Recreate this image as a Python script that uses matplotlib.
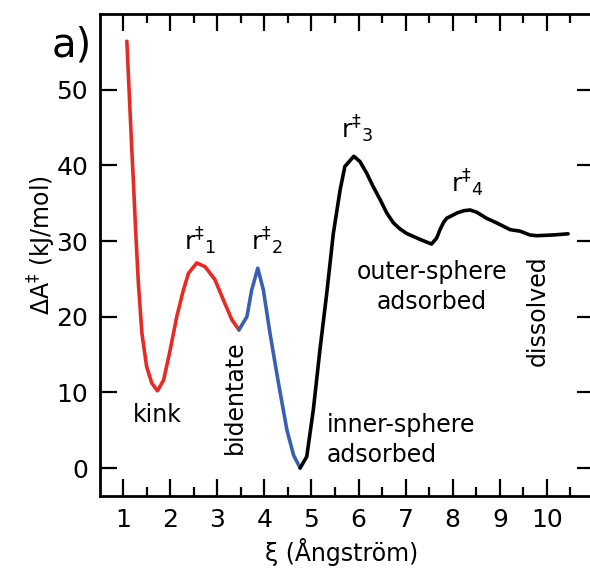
import matplotlib
matplotlib.use("Agg")
import matplotlib.pyplot as plt
from matplotlib.ticker import MultipleLocator

plt.rcParams['font.family'] = ['DejaVu Sans']
plt.rcParams['mathtext.fontset'] = 'dejavusans'

# Segment 1 (red): kink basin and first barrier
red_x = [1.08, 1.185, 1.22, 1.27, 1.325, 1.40, 1.50, 1.61, 1.73, 1.86, 2.00, 2.14, 2.28,
         2.39, 2.565, 2.74, 2.95, 3.13, 3.31, 3.46]
red_y = [56.4, 42.1, 37.7, 31.0, 24.4, 17.8, 13.4, 11.2, 10.2, 11.6, 15.6, 20.0, 23.5,
         25.75, 27.1, 26.6, 24.9, 22.2, 19.6, 18.25]

# Segment 2 (blue): bidentate to inner-sphere
blue_x = [3.46, 3.63, 3.73, 3.86, 3.98, 4.12, 4.30, 4.48, 4.62, 4.76]
blue_y = [18.25, 20.0, 23.5, 26.4, 23.5, 17.8, 11.2, 5.0, 1.7, 0.0]

# Segment 3 (black): inner-sphere to dissolved
black_x = [4.76, 4.90, 5.04, 5.18, 5.325, 5.465, 5.61, 5.71, 5.90, 6.03, 6.17, 6.31, 6.46,
           6.60, 6.74, 6.88, 7.02, 7.31, 7.55, 7.66, 7.73, 7.80, 7.87, 8.09, 8.23, 8.37,
           8.51, 8.72, 8.93, 9.22, 9.43, 9.64, 9.78, 10.14, 10.45]
black_y = [0.0, 1.5, 7.7, 15.6, 23.1, 31.0, 36.8, 39.85, 41.2, 40.5, 39.0, 37.2, 35.45,
           33.7, 32.4, 31.6, 31.0, 30.2, 29.6, 30.4, 31.5, 32.4, 33.0, 33.7, 34.0, 34.1,
           33.8, 33.0, 32.4, 31.5, 31.3, 30.8, 30.7, 30.8, 30.95]

x_ticks = [1, 2, 3, 4, 5, 6, 7, 8, 9, 10]
y_ticks = [0, 10, 20, 30, 40, 50]

fig = plt.figure(figsize=(5.90, 5.73), dpi=100)
ax = fig.add_axes([100/590, 1 - 496/573, (594 - 100)/590, (496 - 14)/573])

lw = 2.6
for xs, ys, c in [(red_x, red_y, '#e62b25'), (blue_x, blue_y, '#3a5fb0'),
                  (black_x, black_y, 'black')]:
    ax.plot(xs, ys, color=c, lw=lw, solid_capstyle='round', solid_joinstyle='round')

ax.set_xlim(0.51, 11.0)
ax.set_ylim(-3.7, 60.0)
ax.set_xticks(x_ticks)
ax.set_yticks(y_ticks)
ax.xaxis.set_minor_locator(MultipleLocator(0.5))

for s in ax.spines.values():
    s.set_linewidth(2.0)
ax.tick_params(which='both', direction='in', top=True, right=True, width=1.6,
               labelsize=18, pad=8.5)
ax.tick_params(which='major', length=12)
ax.tick_params(which='minor', length=6.5)
ax.tick_params(axis='y', which='minor', left=False, right=False)

ax.set_xlabel('ξ (Ångström)', fontsize=17)
ax.xaxis.set_label_coords(0.49, -0.088)
ax.set_ylabel('ΔA$^{\\ddagger}$ (kJ/mol)', fontsize=17)
ax.yaxis.set_label_coords(-0.085, 0.52)

fs = 17
ax.text(1.72, 7.0, 'kink', fontsize=fs, ha='center', va='center')
ax.text(3.38, 9.4, 'bidentate', fontsize=fs, ha='center', va='center', rotation=90)
ax.text(5.33, 3.7, 'inner-sphere\nadsorbed', fontsize=fs, ha='left', va='center',
        multialignment='left', linespacing=1.3)
ax.text(7.56, 23.9, 'outer-sphere\nadsorbed', fontsize=fs, ha='center', va='center',
        multialignment='center', linespacing=1.3)
ax.text(9.81, 20.8, 'dissolved', fontsize=fs, ha='center', va='center', rotation=90)

rfs = 18
ax.text(2.63, 30.0, '$\\mathrm{r}^{\\ddagger}{}_{1}$', fontsize=rfs, ha='center', va='center')
ax.text(4.06, 30.0, '$\\mathrm{r}^{\\ddagger}{}_{2}$', fontsize=rfs, ha='center', va='center')
ax.text(5.97, 44.7, '$\\mathrm{r}^{\\ddagger}{}_{3}$', fontsize=rfs, ha='center', va='center')
ax.text(8.31, 37.6, '$\\mathrm{r}^{\\ddagger}{}_{4}$', fontsize=rfs, ha='center', va='center')

fig.text(72/590, 1 - 45/573, 'a)', fontsize=29, ha='center', va='center')

fig.savefig('out.png', dpi=100)
